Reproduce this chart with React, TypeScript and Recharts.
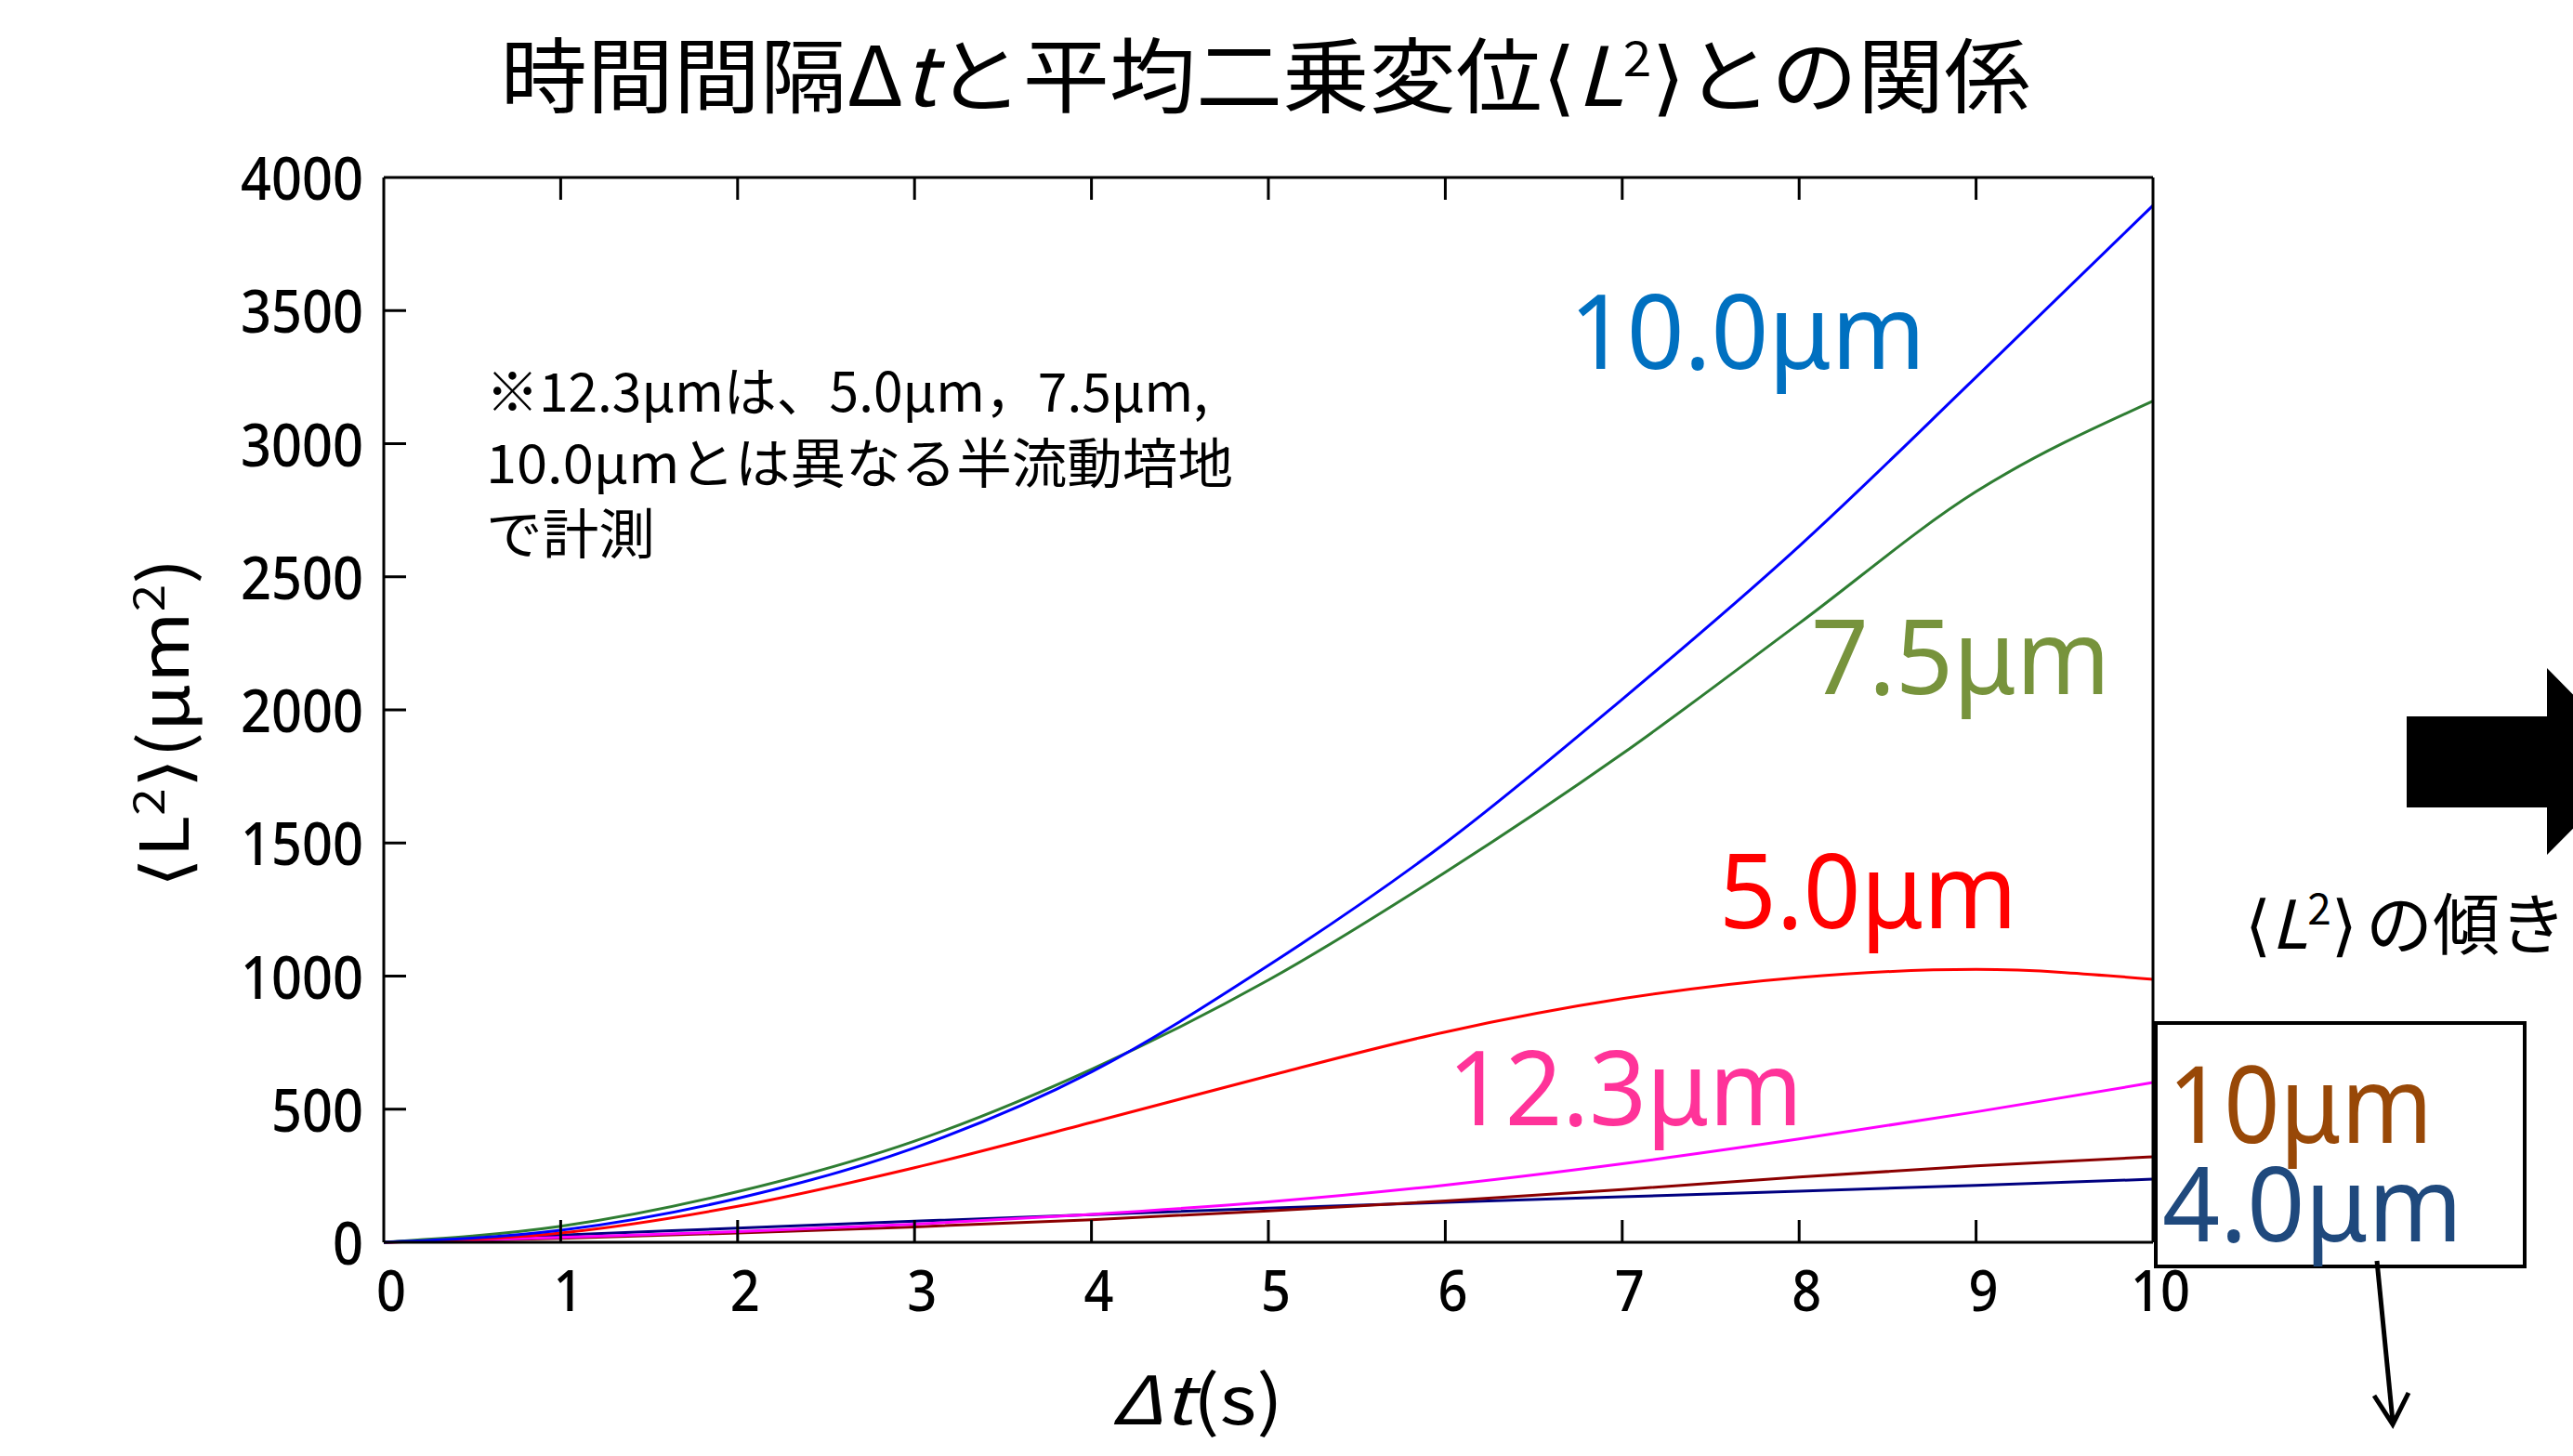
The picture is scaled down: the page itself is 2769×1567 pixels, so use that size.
import React from "react";
import { LineChart, Line, XAxis, YAxis } from "recharts";

const W = 2769;
const H = 1567;

// Δt (s)
const dt = [0, 1, 2, 3, 4, 5, 6, 7, 8, 9, 10];
// <L^2> (μm^2)
const um10_0 = [0, 45, 165, 355, 640, 1040, 1500, 2040, 2615, 3250, 3895];
const um7_5 = [0, 60, 190, 380, 650, 985, 1390, 1835, 2325, 2820, 3160];
const um5_0 = [0, 35, 135, 280, 450, 625, 790, 915, 995, 1025, 988];
const um12_3 = [0, 18, 40, 68, 105, 152, 215, 295, 388, 490, 600];
const um10 = [0, 15, 35, 58, 85, 118, 155, 198, 245, 287, 321];
const um4_0 = [0, 27, 53, 79, 104, 128, 150, 171, 192, 214, 237];

const xTicks = [0, 1, 2, 3, 4, 5, 6, 7, 8, 9, 10];
const yTicks = [0, 500, 1000, 1500, 2000, 2500, 3000, 3500, 4000];

const rows = dt.map((t, i) => ({
  t,
  a: um10_0[i],
  b: um7_5[i],
  c: um5_0[i],
  d: um12_3[i],
  e: um10[i],
  f: um4_0[i],
}));

const tickFont = "'Noto Sans', sans-serif";
const jp = "'Noto Sans CJK JP', sans-serif";
const TL = 24; // inward tick length

const BottomTick = (p: any) => {
  const v = p.payload.value;
  return (
    <g>
      {v !== 0 && v !== 10 && (
        <line x1={p.x} y1={p.y} x2={p.x} y2={p.y - TL} stroke="#000" strokeWidth={3} />
      )}
      <text
        x={p.x + 8}
        y={p.y + 74}
        textAnchor="middle"
        fontFamily={tickFont}
        fontSize={62}
        fontWeight={500}
        fill="#000"
        textLength={String(v).length * 32}
        lengthAdjust="spacingAndGlyphs"
      >
        {v}
      </text>
    </g>
  );
};

const TopTick = (p: any) => {
  const v = p.payload.value;
  if (v === 0 || v === 10) return <g />;
  return <line x1={p.x} y1={p.y} x2={p.x} y2={p.y + TL} stroke="#000" strokeWidth={3} />;
};

const LeftTick = (p: any) => {
  const v = p.payload.value;
  const s = String(v);
  return (
    <g>
      {v !== 0 && v !== 4000 && (
        <line x1={p.x} y1={p.y} x2={p.x + TL} y2={p.y} stroke="#000" strokeWidth={3} />
      )}
      <text
        x={p.x - 22}
        y={p.y + 24}
        textAnchor="end"
        fontFamily={tickFont}
        fontSize={64}
        fontWeight={500}
        fill="#000"
        textLength={s.length * 33}
        lengthAdjust="spacingAndGlyphs"
      >
        {s}
      </text>
    </g>
  );
};

const RightTick = (p: any) => {
  const v = p.payload.value;
  if (v === 0 || v === 4000) return <g />;
  return <line x1={p.x} y1={p.y} x2={p.x - TL} y2={p.y} stroke="#000" strokeWidth={3} />;
};

const axisLine = { stroke: "#000", strokeWidth: 3 };
const bracket = "'DejaVu Sans', sans-serif";

function Overlay() {
  return (
    <svg
      width={W}
      height={H}
      style={{ position: "absolute", left: 0, top: 0, overflow: "hidden", pointerEvents: "none" }}
    >
      {/* title */}
      <text x={1362} y={114} textAnchor="middle" fontFamily={jp} fontSize={88} fill="#000" textLength={1647} lengthAdjust="spacingAndGlyphs">
        時間間隔Δ<tspan fontStyle="italic">t</tspan>と平均二乗変位<tspan fontFamily={bracket}>⟨</tspan>
        <tspan fontStyle="italic">L</tspan>
        <tspan dy={-32} fontSize={52}>2</tspan>
        <tspan dy={32} fontFamily={bracket}>⟩</tspan>
        <tspan>との関係</tspan>
      </text>

      {/* y axis title */}
      <text transform="translate(203,778) rotate(-90)" textAnchor="middle" fontFamily={jp} fontSize={72} fill="#000" textLength={355} lengthAdjust="spacingAndGlyphs">
        <tspan fontFamily={bracket}>⟨</tspan>L<tspan dy={-26} fontSize={46}>2</tspan>
        <tspan dy={26} fontFamily={bracket}>⟩</tspan>
        <tspan>(μm</tspan>
        <tspan dy={-26} fontSize={46}>2</tspan>
        <tspan dy={26}>)</tspan>
      </text>

      {/* x axis title */}
      <text x={1196} y={1533} fontFamily={jp} fontSize={72} fill="#000" textLength={185} lengthAdjust="spacingAndGlyphs">
        <tspan fontStyle="italic">Δt</tspan>(s)
      </text>

      {/* note */}
      <g fontFamily={jp} fontSize={58} fill="#000">
        <text x={523} y={443} textLength={777} lengthAdjust="spacingAndGlyphs">※12.3μmは、5.0μm，7.5μm,</text>
        <text x={523} y={520} textLength={804} lengthAdjust="spacingAndGlyphs">10.0μmとは異なる半流動培地</text>
        <text x={523} y={596} textLength={182} lengthAdjust="spacingAndGlyphs">で計測</text>
      </g>

      {/* series labels */}
      <g fontFamily={tickFont} fontSize={112}>
        <text x={1689} y={397} fill="#0070C0" textLength={383} lengthAdjust="spacingAndGlyphs">10.0μm</text>
        <text x={1949} y={747} fill="#77933C" textLength={322} lengthAdjust="spacingAndGlyphs">7.5μm</text>
        <text x={1850} y={999} fill="#FF0000" textLength={321} lengthAdjust="spacingAndGlyphs">5.0μm</text>
        <text x={1558} y={1211} fill="#FF3399" textLength={382} lengthAdjust="spacingAndGlyphs">12.3μm</text>
      </g>

      {/* boxed labels */}
      <rect x={2320} y={1101} width={397} height={262} fill="none" stroke="#000" strokeWidth={4} />
      <text x={2333} y={1230} fontFamily={tickFont} fontSize={116} fill="#984807" textLength={285} lengthAdjust="spacingAndGlyphs">10μm</text>
      <text x={2327} y={1336} fontFamily={tickFont} fontSize={112} fill="#1F497D" textLength={323} lengthAdjust="spacingAndGlyphs">4.0μm</text>

      {/* small arrow */}
      <line x1={2558} y1={1357} x2={2575} y2={1530} stroke="#000" strokeWidth={5} />
      <polyline points="2555,1502 2575,1533 2592,1499" fill="none" stroke="#000" strokeWidth={5} />

      {/* big arrow */}
      <polygon points="2590,771 2741,771 2741,719 2840,820 2741,920 2741,869 2590,869" fill="#000" />

      {/* side text */}
      <text x={2416} y={1021} fontFamily={jp} fontSize={72} fill="#000">
        <tspan fontFamily={bracket}>⟨</tspan>
        <tspan fontStyle="italic">L</tspan>
        <tspan dy={-26} fontSize={46}>2</tspan>
        <tspan dy={26} fontFamily={bracket}>⟩</tspan>
        <tspan x={2546}>の傾きを</tspan>
      </text>
    </svg>
  );
}

export default function App() {
  return (
    <div style={{ position: "absolute", left: 0, top: 0, width: W, height: H, overflow: "hidden", background: "#fff" }}>
      <LineChart width={W} height={H} data={rows} margin={{ top: 190, right: 451, bottom: 130, left: 213 }}>
        <XAxis
          xAxisId="b"
          dataKey="t"
          type="number"
          domain={[0, 10]}
          ticks={xTicks}
          interval={0}
          height={100}
          tickSize={0}
          tickMargin={0}
          tickLine={false}
          axisLine={axisLine}
          tick={BottomTick}
        />
        <XAxis
          xAxisId="top"
          orientation="top"
          dataKey="t"
          type="number"
          domain={[0, 10]}
          ticks={xTicks}
          interval={0}
          height={1}
          tickSize={0}
          tickMargin={0}
          tickLine={false}
          axisLine={axisLine}
          tick={TopTick}
        />
        <YAxis
          yAxisId="l"
          type="number"
          domain={[0, 4000]}
          ticks={yTicks}
          interval={0}
          width={200}
          tickSize={0}
          tickMargin={0}
          tickLine={false}
          axisLine={axisLine}
          tick={LeftTick}
        />
        <YAxis
          yAxisId="r"
          orientation="right"
          type="number"
          domain={[0, 4000]}
          ticks={yTicks}
          interval={0}
          width={1}
          tickSize={0}
          tickMargin={0}
          tickLine={false}
          axisLine={axisLine}
          tick={RightTick}
        />
        <Line xAxisId="b" yAxisId="l" type="monotone" dataKey="f" stroke="#000080" strokeWidth={3} dot={false} isAnimationActive={false} />
        <Line xAxisId="b" yAxisId="l" type="monotone" dataKey="e" stroke="#8B0000" strokeWidth={3} dot={false} isAnimationActive={false} />
        <Line xAxisId="b" yAxisId="l" type="monotone" dataKey="d" stroke="#FF00FF" strokeWidth={3} dot={false} isAnimationActive={false} />
        <Line xAxisId="b" yAxisId="l" type="monotone" dataKey="c" stroke="#FF0000" strokeWidth={3} dot={false} isAnimationActive={false} />
        <Line xAxisId="b" yAxisId="l" type="monotone" dataKey="b" stroke="#2E7D32" strokeWidth={3} dot={false} isAnimationActive={false} />
        <Line xAxisId="b" yAxisId="l" type="monotone" dataKey="a" stroke="#0000FF" strokeWidth={3} dot={false} isAnimationActive={false} />
      </LineChart>
      <Overlay />
    </div>
  );
}
